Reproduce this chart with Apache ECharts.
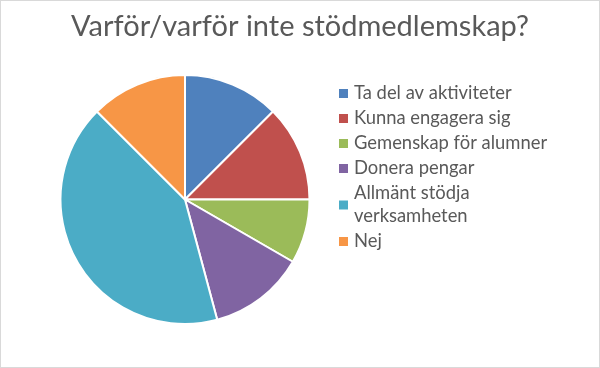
<!DOCTYPE html>
<html><head><meta charset="utf-8">
<script src="https://cdn.jsdelivr.net/npm/echarts@6/dist/echarts.min.js"></script>
<style>html,body{margin:0;padding:0;background:#fff}#c{width:598px;height:366px;border:1px solid #d9d9d9}</style>
</head><body><div id="c"></div>
<script>
const titleText = 'Varför/varför inte stödmedlemskap?';
const categories = ['Ta del av aktiviteter','Kunna engagera sig','Gemenskap för alumner','Donera pengar','Allmänt stödja\nverksamheten','Nej'];
const values = [3,3,2,3,10,3];
const colors = ['#4F81BD','#C0504D','#9BBB59','#8064A2','#4BACC6','#F79646'];

const chart = echarts.init(document.getElementById('c'));
chart.setOption({
  animation:false,
  color: colors,
  title:{text:titleText,left:'center',top:6,textStyle:{fontFamily:'Lato',fontWeight:'normal',fontSize:29,color:'#595959'}},
  legend:{orient:'vertical',left:331,top:76,itemWidth:11,itemHeight:11,itemGap:2,icon:'rect',
    textStyle:{fontFamily:'Lato',fontSize:18.4,color:'#595959',lineHeight:23,padding:[0,0,0,0]},
    data:categories},
  series:[{type:'pie',center:[184,198.5],radius:124.5,startAngle:90,clockwise:true,
    label:{show:false},labelLine:{show:false},
    itemStyle:{borderColor:'#fff',borderWidth:2},
    data:categories.map((c,i)=>({name:c,value:values[i]}))}]
});
</script></body></html>
